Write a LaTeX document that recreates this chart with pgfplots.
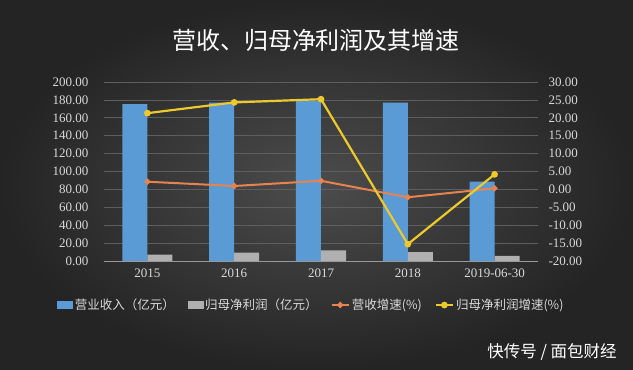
\documentclass[border=0pt]{standalone}
\usepackage{pgfplots}
\pgfplotsset{compat=1.18}
\usepackage{fontspec}
\setmainfont{Liberation Serif}
\newfontfamily\cjk{Noto Sans CJK SC}
\definecolor{bgin}{HTML}{4C4C4C}
\definecolor{bgout}{HTML}{242424}
\definecolor{barblue}{HTML}{5B9BD5}
\definecolor{bargray}{HTML}{B0B0B0}
\definecolor{lineor}{HTML}{E8834F}
\definecolor{lineye}{HTML}{EDC92C}
\definecolor{gridc}{HTML}{5E5E5E}
\definecolor{ticktext}{HTML}{D9D9D9}
\begin{document}
\begin{tikzpicture}[x=1pt,y=1pt]
\shade[inner color=bgin, outer color=bgout] (0,0) rectangle (633,370);
\node[text=white, font=\cjk\fontsize{24}{24}\selectfont] at (316,330) {营收、归母净利润及其增速};
\begin{axis}[
  at={(104pt,109pt)}, anchor=south west, scale only axis,
  width=434pt, height=179pt,
  xmin=-0.5, xmax=4.5, ymin=0, ymax=200,
  ytick={0,20,...,200},
  xtick={0,1,2,3,4}, xticklabels={2015,2016,2017,2018,2019-06-30},
  axis x line*=bottom, axis y line*=left,
  x axis line style={color=gray!80!white, line width=0.8pt},
  y axis line style={draw=none},
  ybar, bar width=25pt, ybar=0pt,
  ymajorgrids, grid style={color=gridc, line width=0.7pt},
  major tick length=0pt,
  tick label style={text=ticktext, font=\fontsize{13}{13}\selectfont},
  yticklabel style={anchor=east, xshift=-12pt},
  xticklabel style={yshift=-4pt},
  /pgf/number format/fixed, /pgf/number format/fixed zerofill,
  /pgf/number format/precision=2, /pgf/number format/assume math mode=true,
]
\addplot[fill=barblue, draw=none] coordinates {(0,175.4) (1,177) (2,179) (3,177) (4,88.6)};
\addplot[fill=bargray, draw=none] coordinates {(0,7.0) (1,9.3) (2,12.0) (3,10.0) (4,5.6)};
\end{axis}
\begin{axis}[
  at={(104pt,109pt)}, anchor=south west, scale only axis,
  width=434pt, height=179pt,
  xmin=-0.5, xmax=4.5, ymin=-20, ymax=30,
  ytick={-20,-15,...,30},
  axis y line*=right, axis x line=none,
  y axis line style={draw=none},
  major tick length=0pt,
  tick label style={text=ticktext, font=\fontsize{13}{13}\selectfont},
  yticklabel style={anchor=west, xshift=7pt},
  /pgf/number format/fixed, /pgf/number format/fixed zerofill,
  /pgf/number format/precision=2, /pgf/number format/assume math mode=true,
  legend columns=4,
  legend style={at={(0.478,-0.246)}, anchor=center, draw=none, fill=none,
    text=ticktext, font=\cjk\fontsize{12.5}{13}\selectfont,
    /tikz/every even column/.append style={column sep=11pt}},
]
\addlegendimage{legend image code/.code={\fill[barblue] (0pt,-3.5pt) rectangle (15pt,3.5pt);}}
\addlegendentry{营业收入（亿元）}
\addlegendimage{legend image code/.code={\fill[bargray] (0pt,-3.5pt) rectangle (15pt,3.5pt);}}
\addlegendentry{归母净利润（亿元）}
\addplot[color=lineor, line width=2pt, mark=*, mark size=1.9pt, mark options={fill=lineor}] coordinates {(0,2.15) (1,0.95) (2,2.4) (3,-2.2) (4,0.3)};
\addlegendentry{营收增速(\%)}
\addplot[color=lineye, line width=2.2pt, mark=*, mark size=2.2pt, mark options={fill=lineye}] coordinates {(0,21.3) (1,24.3) (2,25.2) (3,-15.3) (4,4.2)};
\addlegendentry{归母净利润增速(\%)}
\end{axis}
\node[text=white, font=\cjk\fontsize{16.5}{17}\selectfont] at (552,18) {快传号 / 面包财经};
\pgfresetboundingbox
\path[use as bounding box] (0,0) rectangle (633,370);
\end{tikzpicture}
\end{document}
